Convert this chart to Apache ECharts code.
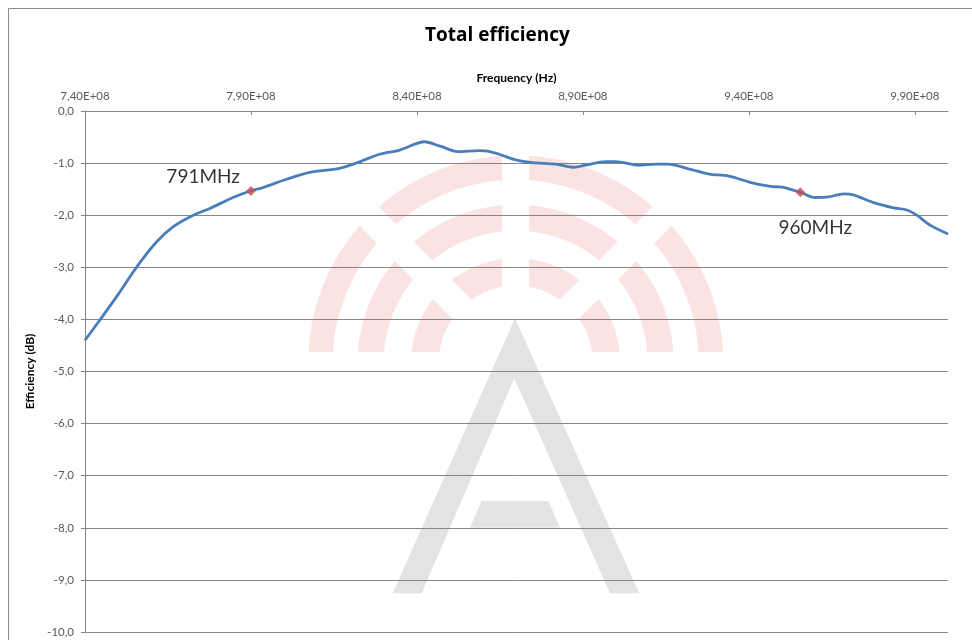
<!DOCTYPE html>
<html>
<head>
<meta charset="utf-8">
<script src="https://cdn.jsdelivr.net/npm/echarts@6/dist/echarts.min.js"></script>
<style>html,body{margin:0;padding:0;background:#fff;}#c{width:972px;height:640px;}</style>
</head>
<body>
<div id="c"></div>
<script>
// Frequency in MHz and total efficiency in dB
const freqMHz = [740, 744.5, 750, 755.5, 761.6, 766.6, 772.6, 777.6, 784.6, 790, 793.6, 800.7, 807.7, 816.7, 822.5,
  828.7, 834.8, 842.3, 846.8, 852.3, 858.8, 861.3, 864.8, 869.8, 874.8, 881.8, 887.4, 890.8, 896.9, 899.9,
  906.9, 911.9, 915.5, 923, 928, 934, 941, 947, 950, 955.5, 960, 964, 968.5, 971.5, 977.6, 983.6, 987.6,
  990.6, 994.6, 1000];
const effDb = [-4.40, -4.01, -3.52, -3.00, -2.51, -2.22, -2.00, -1.87, -1.66, -1.53, -1.47, -1.31, -1.18, -1.10, -0.98,
  -0.83, -0.75, -0.59, -0.67, -0.78, -0.76, -0.77, -0.83, -0.94, -0.99, -1.02, -1.08, -1.04, -0.97, -0.97,
  -1.04, -1.02, -1.02, -1.13, -1.21, -1.25, -1.38, -1.45, -1.46, -1.56, -1.66, -1.65, -1.59, -1.61, -1.76, -1.86, -1.90,
  -2.00, -2.19, -2.36];
const markerFreqMHz = [790, 955.5];
const markerDb = [-1.535, -1.56];
const markerLabels = ['791MHz', '960MHz'];
const xTickMHz = [740, 790, 840, 890, 940, 990];

const chart = echarts.init(document.getElementById('c'), null, {renderer: 'canvas'});

// watermark geometry (decoration)
const C = {x: 515.7, y: 362.7};
const bands = [[183, 207.5], [132, 158], [77, 104.5]];
const h = 13.5, b = 10.7;
function piece(r0, r1, fa0, fa1) {
  const pts = [];
  const n = 40;
  const a0o = fa0(r1), a1o = fa1(r1);
  for (let i = 0; i <= n; i++) {
    const a = a0o + (a1o - a0o) * i / n;
    pts.push([C.x + r1 * Math.cos(a), C.y - r1 * Math.sin(a)]);
  }
  const a0i = fa0(r0), a1i = fa1(r0);
  for (let i = n; i >= 0; i--) {
    const a = a0i + (a1i - a0i) * i / n;
    pts.push([C.x + r0 * Math.cos(a), C.y - r0 * Math.sin(a)]);
  }
  return pts;
}
const PI = Math.PI;
const segFns = [
  [r => Math.asin(b / r), r => PI / 4 - Math.asin(h / r)],
  [r => PI / 4 + Math.asin(h / r), r => PI / 2 - Math.asin(h / r)],
  [r => PI / 2 + Math.asin(h / r), r => 3 * PI / 4 - Math.asin(h / r)],
  [r => 3 * PI / 4 + Math.asin(h / r), r => PI - Math.asin(b / r)]
];
const graphics = [];
bands.forEach(([r0, r1]) => {
  segFns.forEach(([f0, f1]) => {
    graphics.push({type: 'polygon', z: -10, silent: true,
      shape: {points: piece(r0, r1, f0, f1)}, style: {fill: '#fce3e3'}});
  });
});
graphics.push({type: 'polygon', z: -10, silent: true,
  shape: {points: [[515, 318.3], [639.3, 593.3], [610, 593.3], [514.3, 378.3], [421.7, 593.3], [392.7, 593.3]]},
  style: {fill: '#e3e3e3'}});
graphics.push({type: 'polygon', z: -10, silent: true,
  shape: {points: [[481.7, 501], [548.3, 501], [560, 527.7], [470, 527.7]]},
  style: {fill: '#e3e3e3'}});
// outer chart frame
graphics.push({type: 'rect', z: -20, silent: true,
  shape: {x: 8.5, y: 8.5, width: 1200, height: 1200},
  style: {fill: '#fff', stroke: '#8a8a8a', lineWidth: 1}});

const lineData = freqMHz.map((f, i) => [f * 1e6, effDb[i]]);
const markerData = markerFreqMHz.map((f, i) => {
  const left = i === 0;
  return {
    value: [f * 1e6, markerDb[i]],
    label: left
      ? {show: true, formatter: markerLabels[i], position: 'left', distance: 6, offset: [0, -14]}
      : {show: true, formatter: markerLabels[i], position: 'bottom', distance: 21, offset: [15, 0]}
  };
});

const fmtX = v => (v / 1e8).toFixed(2).replace('.', ',') + 'E+08';
const fmtY = v => v.toFixed(1).replace('.', ',');
const gray = '#868686';
const font = 'Lato';

chart.setOption({
  animation: false,
  backgroundColor: 'transparent',
  graphic: {elements: graphics},
  title: {
    text: 'Total efficiency', left: 425, top: 26, padding: 0,
    textStyle: {fontFamily: 'Open Sans', fontWeight: 'bold', fontSize: 19, color: '#000'}
  },
  grid: {left: 85, right: 24, top: 111, bottom: 8, containLabel: false},
  xAxis: {
    type: 'value', position: 'top', min: 740e6, max: 1000e6, interval: 50e6,
    name: 'Frequency (Hz)', nameLocation: 'middle', nameGap: 27,
    nameTextStyle: {fontFamily: font, fontWeight: 'bold', fontSize: 12, color: '#000'},
    axisLine: {show: true, lineStyle: {color: gray, width: 1}},
    axisTick: {show: true, inside: true, length: 4, lineStyle: {color: gray},
      customValues: xTickMHz.map(v => v * 1e6)},
    axisLabel: {fontFamily: font, fontSize: 11.5, color: '#595959', margin: 9, formatter: fmtX,
      customValues: xTickMHz.map(v => v * 1e6)},
    splitLine: {show: false}
  },
  yAxis: {
    type: 'value', min: -10, max: 0, interval: 1,
    name: 'Efficiency (dB)', nameLocation: 'middle', nameGap: 39,
    nameTextStyle: {fontFamily: font, fontWeight: 'bold', fontSize: 12, color: '#000'},
    axisLine: {show: true, lineStyle: {color: gray, width: 1}},
    axisTick: {show: true, inside: false, length: 4, lineStyle: {color: gray}},
    axisLabel: {fontFamily: font, fontSize: 11.5, color: '#595959', margin: 11, formatter: fmtY},
    splitLine: {show: true, lineStyle: {color: gray, width: 1}}
  },
  series: [
    {
      type: 'line', data: lineData, showSymbol: false, smooth: 0.3, z: 2,
      lineStyle: {color: '#4a7ebb', width: 2.8}, itemStyle: {color: '#4a7ebb'}
    },
    {
      type: 'scatter', data: markerData, symbol: 'diamond', symbolSize: 10, z: 3,
      itemStyle: {color: '#c0504d'},
      label: {fontFamily: font, fontSize: 19, color: '#000'}
    }
  ]
});
</script>
</body>
</html>
